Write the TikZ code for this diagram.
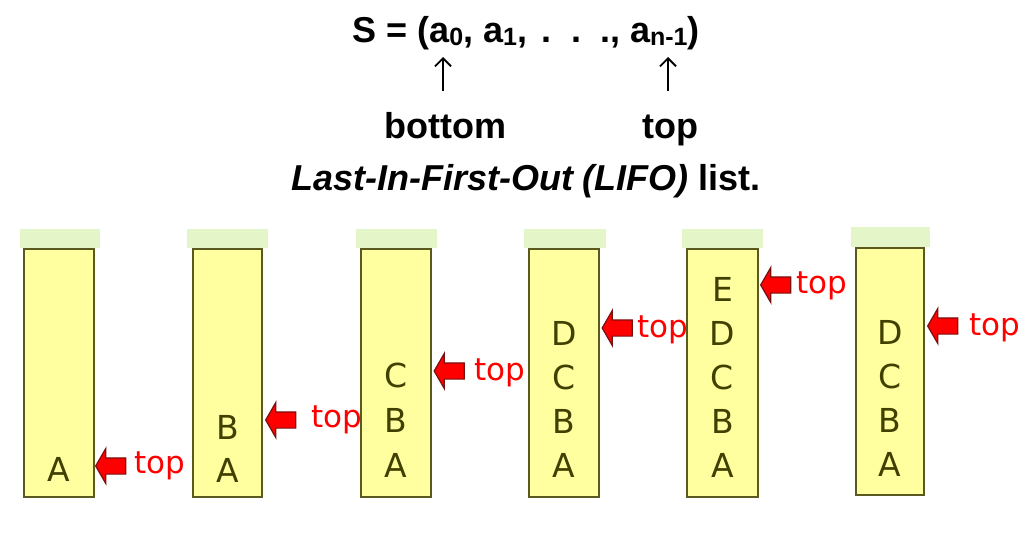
\documentclass[tikz,border=0pt]{standalone}
\usepackage{fontspec}
\setmainfont{Liberation Sans}
\newfontfamily\dejavu{DejaVu Sans}
\usetikzlibrary{shapes.arrows,arrows.meta}
\definecolor{bodyfill}{HTML}{FFFFA0}
\definecolor{capfill}{HTML}{E4F5C8}
\definecolor{edgecol}{HTML}{5A5A20}
\definecolor{lettercol}{HTML}{404000}
\definecolor{darkred}{HTML}{7A1010}
\newcommand\mysub[1]{\raisebox{-3.5pt}{\fontsize{25}{25}\selectfont #1}}
\begin{document}
\begin{tikzpicture}[x=1pt,y=-1pt,
  stackbody/.style={draw=edgecol, line width=1.5pt, fill=bodyfill, minimum width=70pt, minimum height=248pt, inner sep=0pt, anchor=north},
  stackcap/.style={fill=capfill, minimum width=80pt, minimum height=19pt, inner sep=0pt, anchor=north},
  letter/.style={font=\dejavu\fontsize{33}{33}\selectfont, text=lettercol, inner sep=0pt},
  toparr/.style={single arrow, shape border rotate=180, fill=red, draw=darkred, line width=1.2pt, minimum height=30pt, inner sep=7.5pt, single arrow head extend=9.5pt, single arrow tip angle=120},
  toplbl/.style={font=\dejavu\fontsize{31}{31}\selectfont, text=red, anchor=west, inner sep=0pt},
  hdr/.style={font=\bfseries\fontsize{36}{36}\selectfont, inner sep=0pt},
  uparr/.style={line width=1.8pt, -{Straight Barb[length=8pt,width=16pt,line width=1.8pt]}}]
\useasboundingbox (0,0) rectangle (1036,538);

% header
\node[hdr, anchor=base west] (seq) at (352,42) {S = (a\mysub{0}, a\mysub{1},\hspace{14pt}.\hspace{20pt}.\hspace{19pt}., a\mysub{n-1})};
\node[hdr, anchor=base] (bot) at (445.5,138) {bottom};
\node[hdr, anchor=base] (toph) at (670.5,138) {top};
\coordinate (u1b) at (443,91);
\coordinate (u1t) at (443,57);
\coordinate (u2b) at (668,91);
\coordinate (u2t) at (668,57);
\draw[uparr] (u1b) -- (u1t);
\draw[uparr] (u2b) -- (u2t);
\node[hdr, anchor=base] (lifo) at (526,190) {\itshape Last-In-First-Out (LIFO)\upshape{} list.};

% stack 1
\node[stackcap] (c1) at (60,229) {};
\node[stackbody] (s1) at (59,248) {};
\node[letter] (s1a) at (59,469) {A};
\node[toparr] (p1) at (113,466) {};
\node[toplbl] (t1) at (134,466) {top};

% stack 2
\node[stackcap, minimum width=81pt] (c2) at (227.5,229) {};
\node[stackbody, minimum width=69pt] (s2) at (227.5,248) {};
\node[letter] (s2b) at (227.5,427) {B};
\node[letter] (s2a) at (227.5,470) {A};
\node[toparr] (p2) at (283,420) {};
\node[toplbl] (t2) at (311,420) {top};

% stack 3
\node[stackcap, minimum width=81pt] (c3) at (396.5,229) {};
\node[stackbody] (s3) at (396,248) {};
\node[letter] (s3c) at (396,375) {C};
\node[letter] (s3b) at (396,420) {B};
\node[letter] (s3a) at (396,465) {A};
\node[toparr] (p3) at (451.5,371) {};
\node[toplbl] (t3) at (474,373) {top};

% stack 4
\node[stackcap, minimum width=82pt] (c4) at (565,229) {};
\node[stackbody] (s4) at (564,248) {};
\node[letter] (s4d) at (564,333) {D};
\node[letter] (s4c) at (564,377) {C};
\node[letter] (s4b) at (564,421) {B};
\node[letter] (s4a) at (564,465) {A};
\node[toparr] (p4) at (619.5,328) {};
\node[toplbl] (t4) at (637,330) {top};

% stack 5
\node[stackcap, minimum width=81pt] (c5) at (722.5,229) {};
\node[stackbody, minimum width=71pt] (s5) at (722.5,248) {};
\node[letter] (s5e) at (722.5,289) {E};
\node[letter] (s5d) at (722.5,333) {D};
\node[letter] (s5c) at (722.5,377) {C};
\node[letter] (s5b) at (722.5,421) {B};
\node[letter] (s5a) at (722.5,465) {A};
\node[toparr] (p5) at (778,285) {};
\node[toplbl] (t5) at (796,286) {top};

% stack 6
\node[stackcap, minimum width=79pt, minimum height=20pt] (c6) at (890.5,227) {};
\node[stackbody, minimum width=68pt, minimum height=247pt] (s6) at (890,247) {};
\node[letter] (s6d) at (890,332) {D};
\node[letter] (s6c) at (890,376) {C};
\node[letter] (s6b) at (890,420) {B};
\node[letter] (s6a) at (890,464) {A};
\node[toparr] (p6) at (945,326) {};
\node[toplbl] (t6) at (969,328) {top};
\end{tikzpicture}
\end{document}
